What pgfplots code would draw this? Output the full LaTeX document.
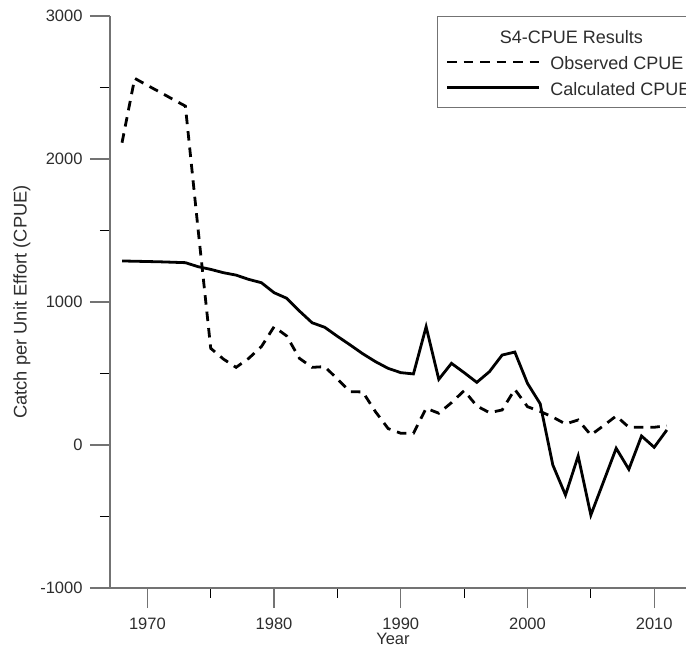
\documentclass[border=0pt]{standalone}
\usepackage{fontspec}
\setmainfont{Liberation Sans}
\usepackage{pgfplots}
\pgfplotsset{compat=1.18}
\definecolor{axgray}{RGB}{115,115,115}
\definecolor{txtgray}{RGB}{45,45,45}

\begin{document}
\begin{tikzpicture}
\begin{axis}[
  at={(0pt,0pt)}, anchor=south west,
  scale only axis,
  width=582.2pt, height=572pt,
  xmin=1967.05, xmax=2013,
  ymin=-1000, ymax=3000,
  axis lines*=left,
  axis line style={axgray, line width=1.2pt, -},
  tick align=outside,
  major tick length=20pt, minor tick length=10pt,
  major tick style={axgray, line width=1.2pt},
  minor tick style={black, line width=1pt},
  xtick={1970,1980,...,2010}, minor xtick={1975,1985,...,2005},
  ytick={-1000,0,...,3000}, minor ytick={-500,500,...,2500},
  /pgf/number format/assume math mode=true,
  /pgf/number format/1000 sep={},
  tick label style={font=\fontsize{16.5pt}{19pt}\selectfont, text=txtgray},
  xticklabel style={yshift=-6.5pt},
  yticklabel style={xshift=-4pt},
  xlabel={Year},
  every axis x label/.style={at={(axis description cs:0.486,0)}, yshift=-57pt,
    anchor=base, font=\fontsize{16.5pt}{18pt}\selectfont, text=txtgray},
  ylabel={Catch per Unit Effort (CPUE)},
  every axis y label/.style={at={(axis description cs:0,0.5)}, xshift=-88pt,
    rotate=90, anchor=center, font=\fontsize{18.3pt}{20pt}\selectfont, text=txtgray},
  legend style={at={(axis description cs:0.5617,1)}, anchor=north west,
    draw=axgray, line width=1.2pt, inner xsep=8pt, inner ysep=7.25pt,
    row sep=0.7pt, column sep=10pt,
    font=\fontsize{18pt}{20pt}\selectfont, text=txtgray,
    nodes={inner sep=0pt, text height=20pt, text depth=5pt}},
  legend cell align=left,
  legend image code/.code={\draw[#1] (0pt,0pt) -- (92pt,0pt);},
]

\addlegendimage{empty legend}
\addlegendentry{\hspace*{-50.5pt}S4-CPUE Results}

\addplot[black, line width=2.8pt, dash pattern=on 9.5pt off 7pt] coordinates {
  (1968,2114) (1969,2564) (1970,2515) (1971,2467) (1972,2418) (1973,2370)
  (1974,1510) (1975,676) (1976,601) (1977,543) (1978,606) (1979,688)
  (1980,827) (1981,762) (1982,606) (1983,543) (1984,548) (1985,461)
  (1986,373) (1987,371) (1988,233) (1989,115) (1990,82) (1991,82)
  (1992,257) (1993,222) (1994,296) (1995,380) (1996,273) (1997,226)
  (1998,245) (1999,389) (2000,268) (2001,235) (2002,195) (2003,147)
  (2004,175) (2005,70) (2006,135) (2007,203) (2008,124) (2009,124)
  (2010,124) (2011,135)
};
\addlegendentry{Observed CPUE}

\addplot[black, line width=2.8pt] coordinates {
  (1968,1287) (1969,1285) (1970,1283) (1971,1281) (1972,1278) (1973,1275)
  (1974,1247) (1975,1228) (1976,1205) (1977,1188) (1978,1158) (1979,1135)
  (1980,1065) (1981,1026) (1982,937) (1983,855) (1984,823) (1985,760)
  (1986,700) (1987,638) (1988,583) (1989,536) (1990,506) (1991,497)
  (1992,827) (1993,459) (1994,571) (1995,506) (1996,438) (1997,513)
  (1998,629) (1999,650) (2000,431) (2001,289) (2002,-140) (2003,-350)
  (2004,-77) (2005,-490) (2006,-257) (2007,-23) (2008,-170) (2009,63)
  (2010,-16) (2011,105)
};
\addlegendentry{Calculated CPUE}

\end{axis}
\pgfresetboundingbox
\clip (-110pt,-62pt) rectangle (576pt,588pt);
\end{tikzpicture}
\end{document}
